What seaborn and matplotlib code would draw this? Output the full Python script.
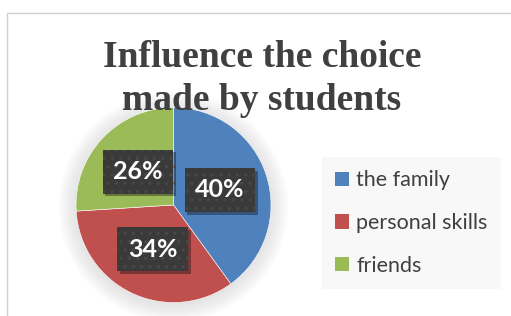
import matplotlib
matplotlib.use("Agg")
import matplotlib.pyplot as plt
import matplotlib.patches as mpatches
import matplotlib.patheffects as pe
import seaborn as sns

# data
categories = ["the family", "personal skills", "friends"]
shares = [40, 34, 26]
title_lines = ["Influence the choice", "made by students"]

sns.set_theme(style="white")
plt.rcParams["font.family"] = ["Lato", "DejaVu Sans"]
plt.rcParams["hatch.linewidth"] = 1.2
colors = ["#4F81BD", "#C0504D", "#9BBB59"]

W, H = 511, 316
fig = plt.figure(figsize=(W / 100, H / 100), dpi=100)
fig.patch.set_facecolor("white")

# chart frame (cut off at right and bottom)
fig.patches.append(mpatches.Rectangle((7 / W, -0.1), 1.2, 1 - 13 / H + 0.1,
                                      transform=fig.transFigure, fill=False,
                                      edgecolor="#d0d0d0", linewidth=1))

# pie axes
cx, cy, r = 173.5, H - 205, 97.5
ax = fig.add_axes([(cx - r) / W, (cy - r) / H, 2 * r / W, 2 * r / H])

# soft shadow around the pie
for i in range(8):
    ax.add_patch(mpatches.Circle((0.0, -0.02), 1.0 + 0.025 * i, color="#9a9a9a",
                                 alpha=0.035, zorder=0, clip_on=False, lw=0))

wedges, texts, autotexts = ax.pie(
    shares, colors=colors, startangle=90, counterclock=False,
    autopct="%d%%", pctdistance=0.5,
    wedgeprops=dict(edgecolor="white", linewidth=0.4),
    textprops=dict(color="white", fontsize=18, fontweight="bold"),
)
for t in autotexts:
    t.set_zorder(5)
    t.set_bbox(dict(boxstyle="square,pad=0.42", facecolor="#3a3a3a",
                    edgecolor="#474747", hatch="..", linewidth=0))
    t.get_bbox_patch().set_path_effects([
        pe.SimplePatchShadow(offset=(2, -2), shadow_rgbFace="#000000", alpha=0.35),
        pe.Normal()])
ax.set_xlim(-1, 1)
ax.set_ylim(-1, 1)
ax.set_aspect("equal")
ax.axis("off")

# title, two lines
title_font = dict(family=["Liberation Serif", "DejaVu Serif"], fontsize=27,
                  fontweight="bold", color="#404040", ha="center", va="baseline")
fig.text(262 / W, 1 - 67 / H, title_lines[0], **title_font)
fig.text(262 / W, 1 - 110 / H, title_lines[1], **title_font)

# legend
handles = [mpatches.Patch(facecolor=c, edgecolor="none") for c in colors]
leg = fig.legend(handles, categories, loc="center left",
                 bbox_to_anchor=(322 / W, 1 - 223 / H),
                 frameon=True, fontsize=15.5, labelcolor="#404040",
                 handlelength=0.65, handleheight=0.65, handletextpad=0.35,
                 labelspacing=1.05, borderpad=0.6, borderaxespad=0)
leg.get_frame().set_facecolor("#f7f7f7")
leg.get_frame().set_edgecolor("none")
leg.get_frame().set_boxstyle("square", pad=0)

fig.savefig("out.png", dpi=100)
